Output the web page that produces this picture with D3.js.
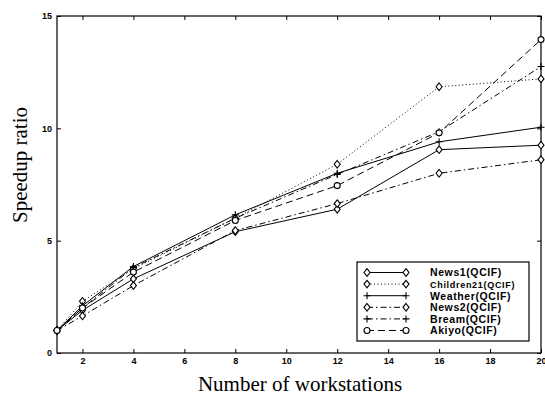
<!DOCTYPE html>
<html>
<head>
<meta charset="utf-8">
<script src="https://cdn.jsdelivr.net/npm/d3@7"></script>
<style>
  body { margin: 0; background: #fff; }
  svg { display: block; }
</style>
</head>
<body>
<figure id="chart" style="margin:0"></figure>
<script>
// workstations on the x axis
const workstations = [1, 2, 4, 8, 12, 16, 20];

// speedup ratio per sequence
const news1      = [1, 1.9, 3.3, 5.4, 6.4, 9.05, 9.25];
const children21 = [1, 2.3, 3.75, 6.0, 8.4, 11.85, 12.2];
const weather    = [1, 2.1, 3.85, 6.15, 8.0, 9.4, 10.05];
const news2      = [1, 1.65, 3.0, 5.45, 6.65, 8.0, 8.6];
const bream      = [1, 2.0, 3.8, 6.0, 7.95, 9.85, 12.75];
const akiyo      = [1, 2.0, 3.6, 5.9, 7.45, 9.8, 13.95];

const seriesNames = ["News1(QCIF)", "Children21(QCIF)", "Weather(QCIF)", "News2(QCIF)", "Bream(QCIF)", "Akiyo(QCIF)"];
const xTicks = [2, 4, 6, 8, 10, 12, 14, 16, 18, 20];
const yTicks = [0, 5, 10, 15];

const series = [
  { name: seriesNames[0], values: news1,      dash: null,          marker: "diamond" },
  { name: seriesNames[1], values: children21, dash: "1,2.5",       marker: "diamond" },
  { name: seriesNames[2], values: weather,    dash: null,          marker: "plus" },
  { name: seriesNames[3], values: news2,      dash: "6,3,1.5,3",   marker: "diamond" },
  { name: seriesNames[4], values: bream,      dash: "6,3,1.5,3",   marker: "plus" },
  { name: seriesNames[5], values: akiyo,      dash: "7,4",         marker: "circle" }
];

const width = 545, height = 398;
const plotLeft = 57, plotRight = 541, plotTop = 16, plotBottom = 353;

const svg = d3.select("#chart").append("svg")
  .attr("width", width)
  .attr("height", height)
  .style("background", "#fff");

const x = d3.scaleLinear().domain([1, 20]).range([plotLeft, plotRight]);
const y = d3.scaleLinear().domain([0, 15]).range([plotBottom, plotTop]);

const tickFont = "bold 9px 'Liberation Sans', Arial, sans-serif";

// bottom axis
svg.append("g")
  .attr("transform", "translate(0," + plotBottom + ")")
  .call(d3.axisBottom(x).tickValues(xTicks).tickSizeInner(-4).tickSizeOuter(0).tickPadding(5))
  .call(g => g.select(".domain").remove())
  .selectAll("text").style("font", tickFont).attr("fill", "#000");

// left axis
svg.append("g")
  .attr("transform", "translate(" + plotLeft + ",0)")
  .call(d3.axisLeft(y).tickValues(yTicks).tickSizeInner(-4).tickSizeOuter(0).tickPadding(5))
  .call(g => g.select(".domain").remove())
  .selectAll("text").style("font", tickFont).attr("fill", "#000");

// top and right ticks, no labels
svg.append("g")
  .attr("transform", "translate(0," + plotTop + ")")
  .call(d3.axisTop(x).tickValues(xTicks).tickSizeInner(-4).tickSizeOuter(0).tickFormat(""))
  .call(g => g.select(".domain").remove());
svg.append("g")
  .attr("transform", "translate(" + plotRight + ",0)")
  .call(d3.axisRight(y).tickValues(yTicks).tickSizeInner(-4).tickSizeOuter(0).tickFormat(""))
  .call(g => g.select(".domain").remove());

svg.selectAll(".tick line").attr("stroke", "#000");

// frame
svg.append("rect")
  .attr("x", plotLeft).attr("y", plotTop)
  .attr("width", plotRight - plotLeft).attr("height", plotBottom - plotTop)
  .attr("fill", "none").attr("stroke", "#000").attr("stroke-width", 1.2);

function drawMarker(g, type, cx, cy) {
  if (type === "diamond") {
    g.append("path")
      .attr("d", "M0,-3.8L3,0L0,3.8L-3,0Z")
      .attr("transform", "translate(" + cx + "," + cy + ")")
      .attr("fill", "#fff").attr("stroke", "#000").attr("stroke-width", 1.1);
  } else if (type === "plus") {
    g.append("path")
      .attr("d", "M-3.5,0H3.5M0,-3.5V3.5")
      .attr("transform", "translate(" + cx + "," + cy + ")")
      .attr("fill", "none").attr("stroke", "#000").attr("stroke-width", 1.1);
  } else {
    g.append("circle")
      .attr("cx", cx).attr("cy", cy).attr("r", 3)
      .attr("fill", "#fff").attr("stroke", "#000").attr("stroke-width", 1.1);
  }
}

const line = d3.line()
  .x((d, i) => x(workstations[i]))
  .y(d => y(d));

series.forEach(s => {
  svg.append("path")
    .datum(s.values)
    .attr("d", line)
    .attr("fill", "none")
    .attr("stroke", "#000")
    .attr("stroke-width", 1)
    .attr("stroke-dasharray", s.dash);
});
series.forEach(s => {
  const g = svg.append("g");
  s.values.forEach((v, i) => drawMarker(g, s.marker, x(workstations[i]), y(v)));
});

// legend
const legend = svg.append("g");
legend.append("rect")
  .attr("x", 357).attr("y", 262)
  .attr("width", 172).attr("height", 79)
  .attr("fill", "#fff").attr("stroke", "#000").attr("stroke-width", 1.2);

series.forEach((s, i) => {
  const ry = 272.5 + i * 11.6;
  legend.append("line")
    .attr("x1", 367).attr("x2", 406).attr("y1", ry).attr("y2", ry)
    .attr("stroke", "#000").attr("stroke-width", 1)
    .attr("stroke-dasharray", s.dash);
  drawMarker(legend, s.marker, 367, ry);
  drawMarker(legend, s.marker, 406, ry);
  legend.append("text")
    .attr("x", 430).attr("y", ry + 3.8)
    .style("font", i === 1 ? "bold 9px 'Liberation Sans', Arial, sans-serif" : "bold 10.5px 'Liberation Sans', Arial, sans-serif")
    .style("letter-spacing", i === 1 ? "0.7px" : "0.6px")
    .attr("fill", "#000")
    .text(s.name);
});

// axis titles
svg.append("text")
  .attr("x", 300).attr("y", 391)
  .attr("text-anchor", "middle")
  .style("font", "21px 'Liberation Serif', 'Times New Roman', serif")
  .attr("fill", "#000")
  .text("Number of workstations");

svg.append("text")
  .attr("transform", "translate(27,165) rotate(-90)")
  .attr("text-anchor", "middle")
  .style("font", "21px 'Liberation Serif', 'Times New Roman', serif")
  .attr("fill", "#000")
  .text("Speedup ratio");
</script>
</body>
</html>
